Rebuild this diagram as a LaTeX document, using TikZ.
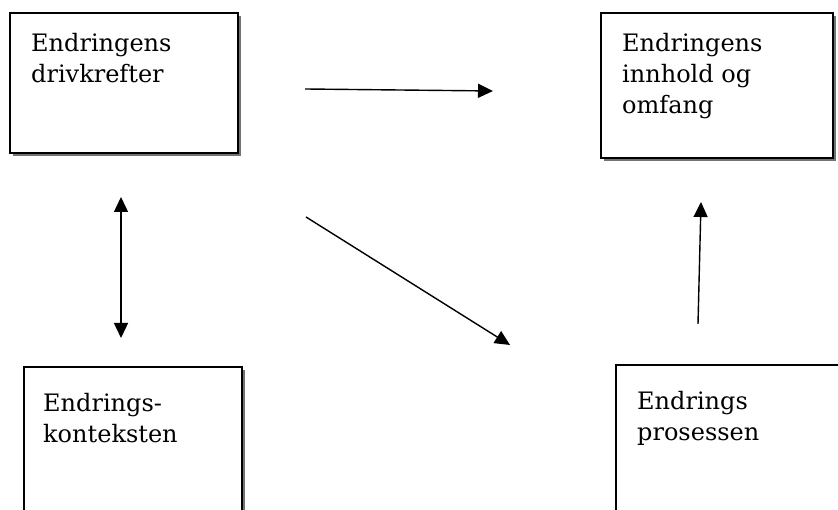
\documentclass[tikz,border=0pt]{standalone}
\usepackage{fontspec}
\setmainfont{DejaVu Serif}
\usetikzlibrary{arrows.meta,shadows}

\tikzset{
  box/.style={draw=black, line width=1.7pt, fill=white, rectangle, inner sep=0pt,
    anchor=north west,
    drop shadow={shadow xshift=3.5pt, shadow yshift=-3.5pt, fill=black!55, opacity=1}},
  % anchored at the baseline of the last line
  boxtext/.style={anchor=base west, align=left, inner sep=0pt,
    font=\fontsize{24}{31}\selectfont},
  link/.style={line width=1.4pt, -{Triangle[length=15pt,width=14pt]}},
  bilink/.style={line width=1.4pt, {Triangle[length=15pt,width=14pt]}-{Triangle[length=15pt,width=14pt]}}
}

\begin{document}
\begin{tikzpicture}[x=1pt,y=1pt]
  \useasboundingbox (0,0) rectangle (838,510);
  \clip (0,0) rectangle (838,510);

  % the four boxes
  \node[box, minimum width=228pt, minimum height=140pt] (drivers) at (9,498) {};
  \node[box, minimum width=232pt, minimum height=145pt] (content) at (600,498) {};
  \node[box, minimum width=218pt, minimum height=170pt] (context) at (23,144) {};
  \node[box, minimum width=240pt, minimum height=170pt] (process) at (615,146) {};

  % box texts
  \node[boxtext] (tdrivers) at ([shift={(22,-71)}]drivers.north west) {Endringens\\drivkrefter};
  \node[boxtext] (tcontent) at ([shift={(22,-102)}]content.north west) {Endringens\\innhold og\\omfang};
  \node[boxtext] (tcontext) at ([shift={(20,-77)}]context.north west) {Endrings-\\konteksten};
  \node[boxtext] (tprocess) at ([shift={(22,-77)}]process.north west) {Endrings\\prosessen};

  % arrow end points
  \coordinate (a1s) at (305,421);
  \coordinate (a1e) at (493,419);
  \coordinate (a2s) at (306,293);
  \coordinate (a2e) at (510,165);
  \coordinate (a3s) at (121,313);
  \coordinate (a3e) at (121,172);
  \coordinate (a4s) at (698,186);
  \coordinate (a4e) at (701,308);

  \draw[link] (a1s) -- (a1e);
  \draw[link] (a2s) -- (a2e);
  \draw[bilink] (a3s) -- (a3e);
  \draw[link] (a4s) -- (a4e);
\end{tikzpicture}
\end{document}
